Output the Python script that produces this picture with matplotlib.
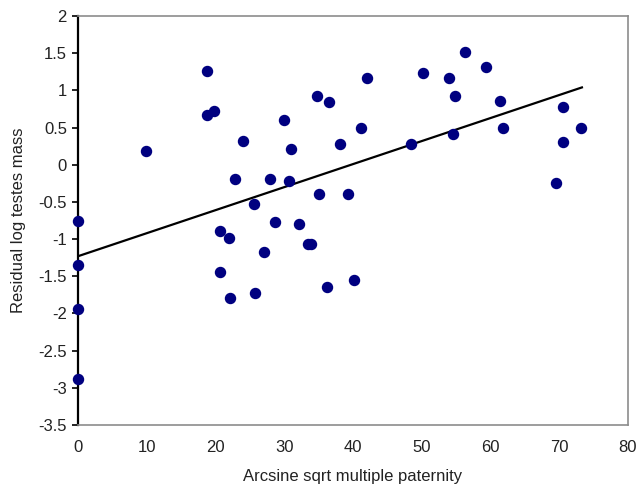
import numpy as np
import matplotlib
matplotlib.use("Agg")
import matplotlib.pyplot as plt

# data
paternity = [0, 0, 0, 0, 9.9, 18.7, 18.7, 19.8, 24.0, 22.8, 27.9, 25.6, 30.0, 31.0,
             30.7, 28.7, 32.1, 20.7, 22.0, 27.0, 20.7, 22.1, 25.7, 33.5, 33.9,
             34.8, 35.0, 36.5, 42.1, 38.1, 41.2, 39.2, 36.2, 40.1, 48.4, 50.2,
             53.9, 54.8, 54.6, 56.3, 59.3, 61.4, 61.8, 69.6, 70.5, 70.5, 73.2]
residual = [-0.75, -1.35, -1.94, -2.88, 0.19, 1.26, 0.67, 0.72, 0.32, -0.19, -0.19,
            -0.53, 0.60, 0.21, -0.22, -0.77, -0.80, -0.89, -0.98, -1.18, -1.44,
            -1.79, -1.72, -1.06, -1.06, 0.93, -0.40, 0.85, 1.17, 0.28, 0.50, -0.40,
            -1.65, -1.55, 0.28, 1.24, 1.16, 0.92, 0.42, 1.51, 1.32, 0.86, 0.49,
            -0.24, 0.77, 0.31, 0.50]
fit_x = [0, 73.3]
fit_y = [-1.23, 1.04]

plt.rcParams['font.family'] = ['Liberation Sans', 'DejaVu Sans']

fig = plt.figure(figsize=(6.38, 4.86), dpi=100)
ax = fig.add_axes([0.1223, 0.1255, 0.862, 0.8415])

ax.plot(fit_x, fit_y, color='black', lw=1.6, zorder=2)
ax.scatter(paternity, residual, s=52, color='#000080', zorder=3, clip_on=False)

ax.set_xlim(0, 80)
ax.set_ylim(-3.5, 2)
ax.set_xticks(np.arange(0, 81, 10))
ax.set_yticks(np.arange(-3.5, 2.01, 0.5))
ax.set_yticklabels(['-3.5', '-3', '-2.5', '-2', '-1.5', '-1', '-0.5', '0',
                    '0.5', '1', '1.5', '2'])
ax.tick_params(axis='x', length=0, pad=11, labelsize=12, colors='#222222')
ax.tick_params(axis='y', length=4, width=1.2, direction='out', pad=4,
               labelsize=12, colors='#222222')
ax.tick_params(axis='y', color='black')

for side in ['top', 'right', 'bottom']:
    ax.spines[side].set_color('#8c8c8c')
    ax.spines[side].set_linewidth(1.2)
ax.spines['left'].set_color('black')
ax.spines['left'].set_linewidth(1.6)

ax.set_xlabel('Arcsine sqrt multiple paternity', fontsize=12, color='#222222', labelpad=10)
ax.set_ylabel('Residual log testes mass', fontsize=12, color='#222222', labelpad=9)

fig.savefig('out.png', dpi=100)
